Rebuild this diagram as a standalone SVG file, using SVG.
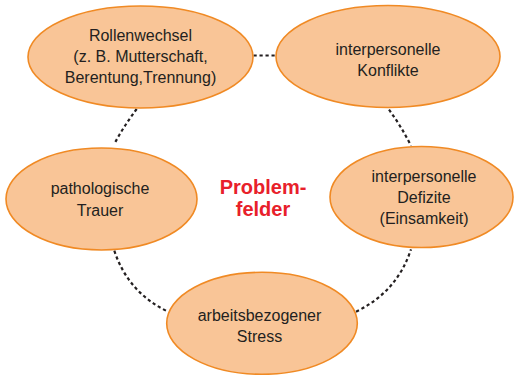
<svg xmlns="http://www.w3.org/2000/svg" width="514" height="375" viewBox="0 0 514 375">
<style>
.node ellipse{fill:#f9c597;stroke:#f08a24;stroke-width:1.6}
.node text{font-family:"Liberation Sans",Arial,sans-serif;font-size:16px;fill:#231f20;text-anchor:middle}
.conn path{fill:none;stroke:#231f20;stroke-width:2.2;stroke-dasharray:3.2 2.8}
.center{font-family:"Liberation Sans",Arial,sans-serif;font-size:20px;font-weight:bold;fill:#e8202a;text-anchor:middle}
</style>
<rect width="514" height="375" fill="#fff"/>
<g id="connectors" class="conn">
<path d="M253.5,55.5 L276,55.5"/>
<path d="M136.7,109 Q124,126 114,144.3"/>
<path d="M389,109.7 Q401,126 411,145.7"/>
<path d="M114.3,250.7 Q128,292 166.7,311"/>
<path d="M356,311.7 Q397,292 411,249.3"/>
</g>
<g id="rollenwechsel" class="node">
<ellipse cx="140.5" cy="57" rx="112.5" ry="51"/>
<text x="140.5" y="40.5">Rollenwechsel</text>
<text x="140.5" y="61.5">(z. B. Mutterschaft,</text>
<text x="140.5" y="82.5">Berentung,Trennung)</text>
</g>
<g id="konflikte" class="node">
<ellipse cx="388" cy="56.5" rx="112" ry="51"/>
<text x="388" y="55">interpersonelle</text>
<text x="388" y="76">Konflikte</text>
</g>
<g id="trauer" class="node">
<ellipse cx="101.5" cy="199" rx="95.5" ry="51"/>
<text x="100" y="194">pathologische</text>
<text x="100" y="215.5">Trauer</text>
</g>
<g id="defizite" class="node">
<ellipse cx="421.5" cy="197" rx="91.5" ry="50.5"/>
<text x="424" y="181.5">interpersonelle</text>
<text x="424" y="202.5">Defizite</text>
<text x="424" y="223.5">(Einsamkeit)</text>
</g>
<g id="stress" class="node">
<ellipse cx="262" cy="323.3" rx="95.3" ry="51"/>
<text x="259.5" y="320.5">arbeitsbezogener</text>
<text x="259.5" y="341.5">Stress</text>
</g>
<g id="problemfelder">
<text class="center" x="263" y="194">Problem-</text>
<text class="center" x="263" y="216">felder</text>
</g>
</svg>
